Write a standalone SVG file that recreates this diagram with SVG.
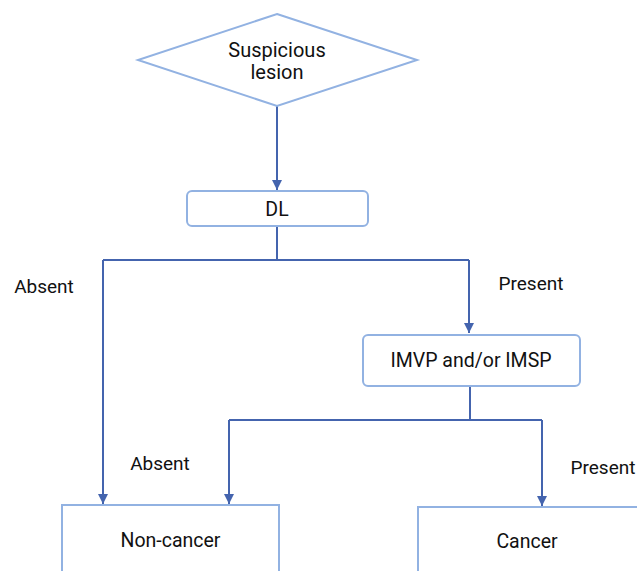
<svg xmlns="http://www.w3.org/2000/svg" width="637" height="571" viewBox="0 0 637 571">
<defs>
<marker id="ah" viewBox="0 0 10 10" refX="10" refY="5" markerWidth="11" markerHeight="10" markerUnits="userSpaceOnUse" orient="auto">
<path d="M0,0 L10,5 L0,10 z" fill="#4464ae"/>
</marker>
<style>
.node{fill:#fff;stroke:#92b2e2;stroke-width:2}
.t{font-family:Roboto,"Liberation Sans",sans-serif;font-size:19.5px;fill:#111;text-anchor:middle}
.l{font-size:19px}
.c{fill:none;stroke:#4464ae;stroke-width:2}
</style>
</defs>
<rect width="637" height="571" fill="#fff"/>
<g id="connectors">
<path class="c" d="M277,106 V190" marker-end="url(#ah)"/>
<path class="c" d="M277,226 V260 M103,260 H469"/>
<path class="c" d="M103,260 V504" marker-end="url(#ah)"/>
<path class="c" d="M469,260 V333" marker-end="url(#ah)"/>
<path class="c" d="M470,386 V420 M229,420 H542"/>
<path class="c" d="M229,420 V504" marker-end="url(#ah)"/>
<path class="c" d="M542,420 V506" marker-end="url(#ah)"/>
<text class="t l" x="44" y="293">Absent</text>
<text class="t l" x="531" y="290">Present</text>
<text class="t l" x="160" y="470">Absent</text>
<text class="t l" x="603" y="474">Present</text>
</g>
<g id="suspicious">
<polygon class="node" points="277,14 417,60 277,106 138,60"/>
<text class="t" x="277" y="57" style="font-size:20px">Suspicious</text>
<text class="t" x="277" y="79" style="font-size:20px">lesion</text>
</g>
<g id="dl">
<rect class="node" x="187" y="191" width="181" height="35" rx="5"/>
<text class="t" x="277" y="216">DL</text>
</g>
<g id="imvp">
<rect class="node" x="363" y="335" width="217" height="51" rx="5"/>
<text class="t" x="471" y="367">IMVP and/or IMSP</text>
</g>
<g id="noncancer">
<rect class="node" x="62" y="505" width="217" height="80"/>
<text class="t" x="170.5" y="547">Non-cancer</text>
</g>
<g id="cancer">
<rect class="node" x="418" y="507" width="230" height="80"/>
<text class="t" x="527" y="548">Cancer</text>
</g>
</svg>
